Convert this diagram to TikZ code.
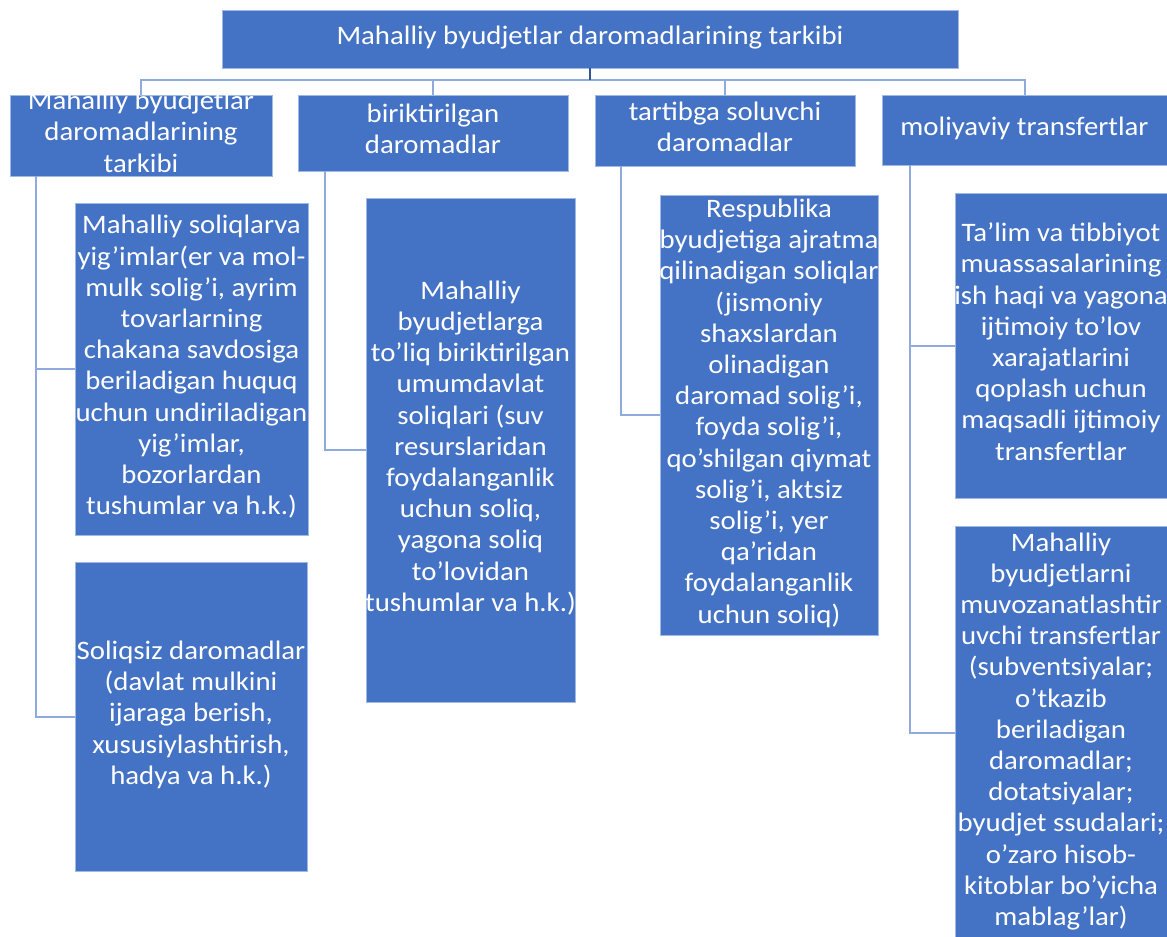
\documentclass[tikz,border=0pt]{standalone}
\usepackage{fontspec}
\setmainfont{Carlito}[FakeStretch=1.08]
\usetikzlibrary{calc}
\definecolor{boxblue}{RGB}{68,114,196}
\definecolor{boxedge}{RGB}{160,185,228}
\definecolor{connlight}{RGB}{143,170,220}
\definecolor{conndark}{RGB}{47,85,151}
\newcommand{\tx}[1]{\smash{\raisebox{-4.5pt}{\makebox[0pt]{\begin{tabular}{@{}c@{}}#1\end{tabular}}}}}
\begin{document}
\begin{tikzpicture}[x=0.75pt,y=-0.75pt,
  box/.style={fill=boxblue,draw=boxedge,line width=0.6pt,text=white,inner sep=0pt,
    font=\fontsize{20}{23.4}\selectfont},
  conn/.style={draw=connlight,line width=1.5pt},
  conndk/.style={draw=conndark,line width=2pt}]
\fill[white] (0,0) rectangle (1167,936);
\useasboundingbox (0,0) rectangle (1167,936);

\node[box,minimum width=552pt,minimum height=43.5pt] (top) at (590,39)
  {\tx{Mahalliy byudjetlar daromadlarining tarkibi}};

\node[box,minimum width=196.5pt,minimum height=60.75pt] (b1) at (141,135.5)
  {\tx{Mahalliy byudjetlar\\daromadlarining\\tarkibi}};
\node[box,minimum width=202.5pt,minimum height=57pt] (b2) at (433,133)
  {\tx{biriktirilgan\\daromadlar}};
\node[box,minimum width=195pt,minimum height=53.25pt] (b3) at (725,130.5)
  {\tx{tartibga soluvchi\\daromadlar}};
\node[box,minimum width=213.75pt,minimum height=52.5pt] (b4) at (1024.5,130)
  {\tx{moliyaviy transfertlar}};

\node[box,minimum width=174.75pt,minimum height=249pt] (c1) at (191.5,369)
  {\tx{Mahalliy soliqlarva\\yig’imlar(er va mol-\\mulk solig’i, ayrim\\tovarlarning\\chakana savdosiga\\beriladigan huquq\\uchun undiriladigan\\yig’imlar,\\bozorlardan\\tushumlar va h.k.)}};
\node[box,minimum width=174pt,minimum height=231.75pt] (c2) at (191,716.5)
  {\tx{Soliqsiz daromadlar\\(davlat mulkini\\ijaraga berish,\\xususiylashtirish,\\hadya va h.k.)}};

\node[box,minimum width=156.75pt,minimum height=378pt] (d1) at (470.5,450)
  {\tx{Mahalliy\\byudjetlarga\\to’liq biriktirilgan\\umumdavlat\\soliqlari (suv\\resurslaridan\\foydalanganlik\\uchun soliq,\\yagona soliq\\to’lovidan\\tushumlar va h.k.)}};

\node[box,minimum width=163.5pt,minimum height=330pt] (e1) at (769,415)
  {\tx{Respublika\\byudjetiga ajratma\\qilinadigan soliqlar\\(jismoniy\\shaxslardan\\olinadigan\\daromad solig’i,\\foyda solig’i,\\qo’shilgan qiymat\\solig’i, aktsiz\\solig’i, yer\\qa’ridan\\foydalanganlik\\uchun soliq)}};

\node[box,minimum width=159pt,minimum height=228.75pt] (f1) at (1061,345.5)
  {\tx{Ta’lim va tibbiyot\\muassasalarining\\ish haqi va yagona\\ijtimoiy to’lov\\xarajatlarini\\qoplash uchun\\maqsadli ijtimoiy\\transfertlar}};
\node[box,minimum width=159pt,minimum height=310.5pt] (f2) at (1061,733)
  {\tx{Mahalliy\\byudjetlarni\\muvozanatlashtir\\uvchi transfertlar\\(subventsiyalar;\\o’tkazib\\beriladigan\\daromadlar;\\dotatsiyalar;\\byudjet ssudalari;\\o’zaro hisob-\\kitoblar bo’yicha\\mablag’lar)}};

% top-level connectors
\coordinate (bus) at ($(top.south)+(0,12)$);
\draw[conn] (bus) -| (b1.north);
\draw[conn] (bus) -| (b2.north);
\draw[conn] (bus) -| (b3.north);
\draw[conn] (bus) -| (b4.north);
\draw[conndk] (top.south) -- (bus);

% second-level connectors
\coordinate (s1) at ($(b1.south west)+(26,0)$);
\coordinate (s2) at ($(b2.south west)+(27,0)$);
\coordinate (s3) at ($(b3.south west)+(26,0)$);
\coordinate (s4) at ($(b4.south west)+(28,0)$);
\draw[conn] (s1) |- (c1.west);
\draw[conn] (s1) |- (c2.west);
\draw[conn] (s2) |- (d1.west);
\draw[conn] (s3) |- (e1.west);
\draw[conn] (s4) |- (f1.west);
\draw[conn] (s4) |- (f2.west);
\end{tikzpicture}
\end{document}
